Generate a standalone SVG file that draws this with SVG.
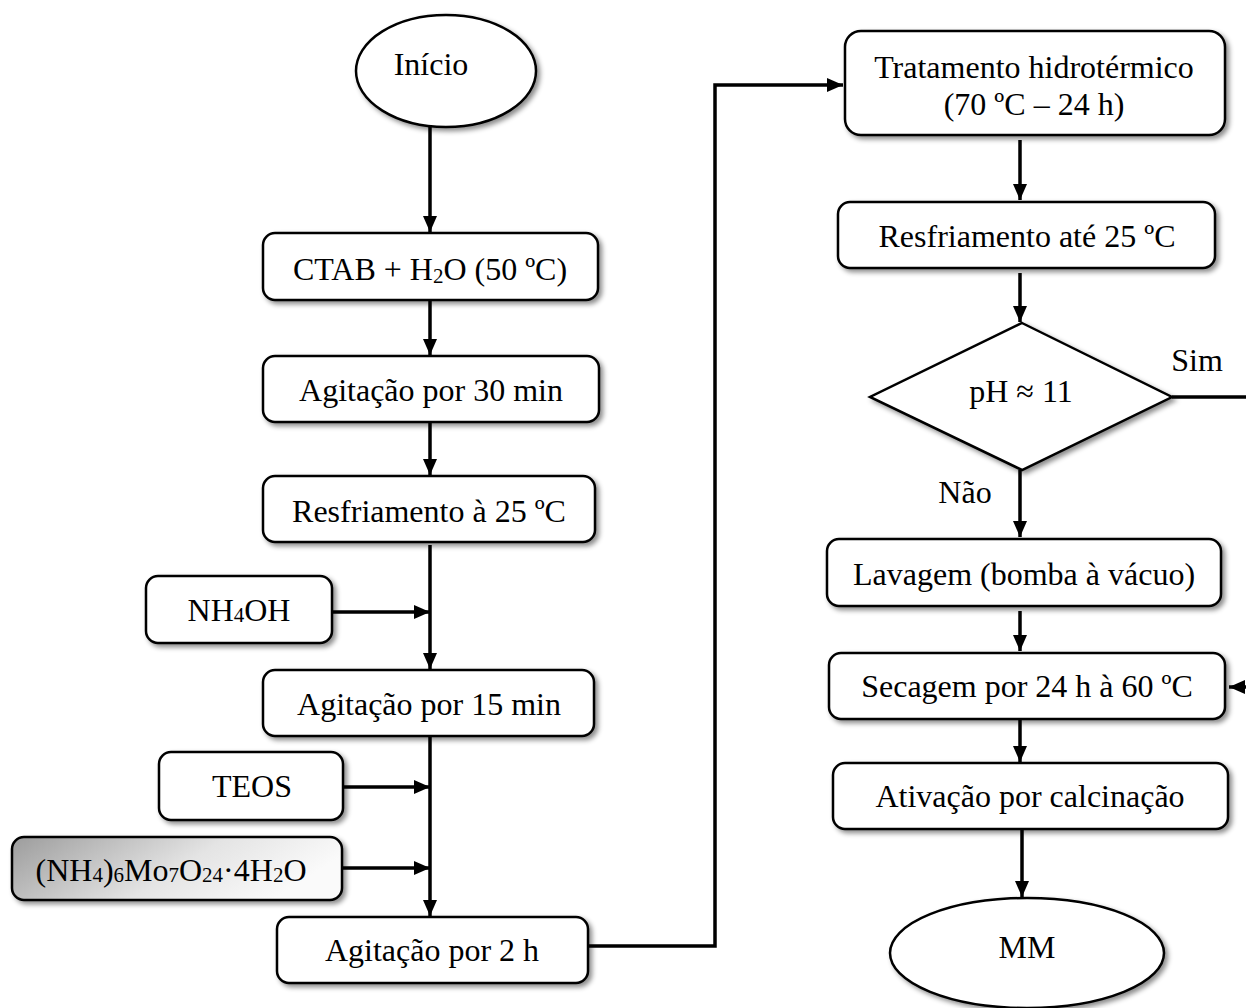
<svg xmlns="http://www.w3.org/2000/svg" width="1246" height="1008" viewBox="0 0 1246 1008">
<style>
  .box{fill:#fff;stroke:#000;stroke-width:2.5;filter:url(#sh)}
  .grad{fill:url(#g1);stroke:#000;stroke-width:2.5;filter:url(#sh)}
  .t{font-family:"Liberation Serif","Times New Roman",serif;font-size:32px;fill:#000;text-anchor:middle}
  .sub{font-size:21px}
  .c{fill:none;stroke:#000;stroke-width:3.5}
  .a{marker-end:url(#ah)}
</style>
<defs>
  <filter id="sh" x="-10%" y="-20%" width="125%" height="150%">
    <feDropShadow dx="3" dy="3" stdDeviation="2.5" flood-color="#000" flood-opacity="0.45"/>
  </filter>
  <linearGradient id="g1" x1="0" y1="0" x2="1" y2="0.3">
    <stop offset="0" stop-color="#9c9c9c"/>
    <stop offset="0.6" stop-color="#e4e4e4"/>
    <stop offset="1" stop-color="#fafafa"/>
  </linearGradient>
  <marker id="ah" markerUnits="userSpaceOnUse" markerWidth="16" markerHeight="14" refX="16" refY="7" orient="auto">
    <path d="M0,0 L16,7 L0,14 z" fill="#000"/>
  </marker>
</defs>

<g id="connectors">
  <line class="c a" x1="430" y1="127" x2="430" y2="232"/>
  <line class="c a" x1="430" y1="300" x2="430" y2="355"/>
  <line class="c a" x1="430" y1="422" x2="430" y2="475"/>
  <line class="c a" x1="430" y1="545" x2="430" y2="669"/>
  <line class="c a" x1="332" y1="612" x2="430" y2="612"/>
  <line class="c a" x1="430" y1="736" x2="430" y2="916"/>
  <line class="c a" x1="343" y1="787" x2="430" y2="787"/>
  <line class="c a" x1="342" y1="868" x2="430" y2="868"/>
  <polyline class="c a" points="588,946 715,946 715,85 843,85"/>
  <line class="c a" x1="1020" y1="140" x2="1020" y2="200"/>
  <line class="c a" x1="1020" y1="273" x2="1020" y2="322"/>
  <line class="c a" x1="1020" y1="470" x2="1020" y2="537"/>
  <line class="c a" x1="1020" y1="611" x2="1020" y2="651"/>
  <line class="c a" x1="1020" y1="719" x2="1020" y2="762"/>
  <line class="c a" x1="1022" y1="829" x2="1022" y2="897"/>
  <line class="c" x1="1172" y1="397" x2="1246" y2="397"/>
  <line class="c a" x1="1246" y1="687" x2="1229" y2="687"/>
</g>

<g id="inicio">
  <ellipse class="box" cx="446" cy="71" rx="90" ry="56"/>
  <text class="t" x="431" y="75">Início</text>
</g>
<g id="ctab">
  <rect class="box" x="263" y="233" width="335" height="67" rx="12"/>
  <text class="t" x="430" y="280">CTAB + H<tspan class="sub" dy="3">2</tspan><tspan dy="-3">O (50 ºC)</tspan></text>
</g>
<g id="agit30">
  <rect class="box" x="263" y="356" width="336" height="66" rx="12"/>
  <text class="t" x="431" y="401">Agitação por 30 min</text>
</g>
<g id="resf25">
  <rect class="box" x="263" y="476" width="332" height="66" rx="12"/>
  <text class="t" x="429" y="522">Resfriamento à 25 ºC</text>
</g>
<g id="nh4oh">
  <rect class="box" x="146" y="576" width="186" height="67" rx="12"/>
  <text class="t" x="239" y="621">NH<tspan class="sub" dy="1">4</tspan><tspan dy="-1">OH</tspan></text>
</g>
<g id="agit15">
  <rect class="box" x="263" y="670" width="331" height="66" rx="12"/>
  <text class="t" x="429" y="715">Agitação por 15 min</text>
</g>
<g id="teos">
  <rect class="box" x="159" y="752" width="184" height="68" rx="12"/>
  <text class="t" x="252" y="797">TEOS</text>
</g>
<g id="molibdato">
  <rect class="grad" x="12" y="837" width="330" height="63" rx="12"/>
  <text class="t" x="171" y="881">(NH<tspan class="sub" dy="1">4</tspan><tspan dy="-1">)</tspan><tspan class="sub" dy="1">6</tspan><tspan dy="-1">Mo</tspan><tspan class="sub" dy="1">7</tspan><tspan dy="-1">O</tspan><tspan class="sub" dy="1">24</tspan><tspan dy="-1">·4H</tspan><tspan class="sub" dy="1">2</tspan><tspan dy="-1">O</tspan></text>
</g>
<g id="agit2h">
  <rect class="box" x="277" y="917" width="311" height="66" rx="12"/>
  <text class="t" x="432" y="961">Agitação por 2 h</text>
</g>
<g id="tratamento">
  <rect class="box" x="845" y="31" width="380" height="104" rx="16"/>
  <text class="t" x="1034" y="78">Tratamento hidrotérmico</text>
  <text class="t" x="1034" y="115">(70 ºC – 24 h)</text>
</g>
<g id="resfate">
  <rect class="box" x="838" y="202" width="377" height="66" rx="12"/>
  <text class="t" x="1027" y="247">Resfriamento até 25 ºC</text>
</g>
<g id="ph">
  <polygon class="box" points="1022,323 1172,397 1022,470 870,397"/>
  <text class="t" x="1021" y="402">pH ≈ 11</text>
</g>
<g id="labels">
  <text class="t" x="1197" y="371">Sim</text>
  <text class="t" x="965" y="503">Não</text>
</g>
<g id="lavagem">
  <rect class="box" x="827" y="539" width="394" height="67" rx="12"/>
  <text class="t" x="1024" y="585">Lavagem (bomba à vácuo)</text>
</g>
<g id="secagem">
  <rect class="box" x="829" y="653" width="396" height="66" rx="12"/>
  <text class="t" x="1027" y="697">Secagem por 24 h à 60 ºC</text>
</g>
<g id="ativacao">
  <rect class="box" x="833" y="763" width="395" height="66" rx="12"/>
  <text class="t" x="1030" y="807">Ativação por calcinação</text>
</g>
<g id="mm">
  <ellipse class="box" cx="1027" cy="953" rx="137" ry="55"/>
  <text class="t" x="1027" y="958">MM</text>
</g>
</svg>
